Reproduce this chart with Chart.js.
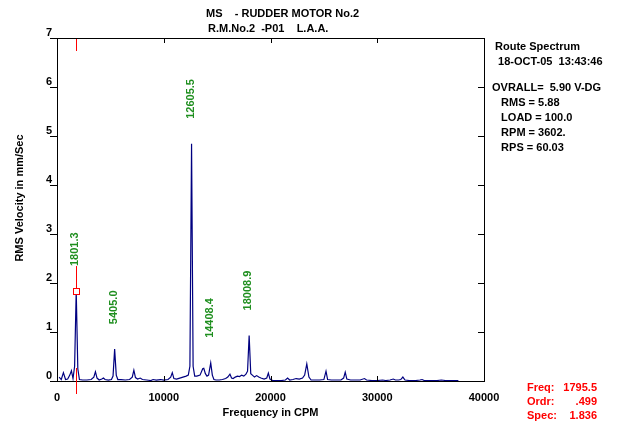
<!DOCTYPE html>
<html><head><meta charset="utf-8">
<script src="https://cdn.jsdelivr.net/npm/chart.js@4/dist/chart.umd.min.js"></script>
<style>html,body{margin:0;padding:0;background:#fff}#wrap{width:621px;height:423px;position:relative}</style>
</head><body><div id="wrap"><canvas id="c" width="621" height="423"></canvas></div>
<script>
// Spectrum (frequency in CPM, RMS velocity in mm/Sec)
const freqCPM = [200,400,600,800,1000,1200,1350,1500,1650,1800,1950,2100,2400,2800,3200,3450,3600,3750,3950,4200,4350,4500,4800,5100,5250,5400,5550,5700,6000,6400,6800,7050,7200,7350,7550,7800,8000,8400,8800,9000,9300,9700,10000,10400,10650,10800,10950,11200,11500,11800,12100,12300,12450,12605,12750,12900,13100,13400,13650,13750,13900,14050,14200,14400,14550,14700,14900,15200,15500,15800,16000,16200,16350,16500,16700,16900,17100,17300,17500,17700,17850,18000,18150,18300,18500,18700,18900,19100,19400,19650,19800,19950,20200,20500,21000,21400,21600,21800,22100,22400,22700,23000,23200,23400,23600,23800,24200,24600,25000,25200,25350,25700,26200,26600,26850,27000,27150,27500,28000,28400,28800,29000,29500,30000,30500,30800,31200,31500,31700,32000,32200,32400,32600,33000,33600,34000,34200,34400,35000,35600,36000,36400,37000,37600];
const rmsVel = [0.08,0.03,0.17,0.03,0.04,0.12,0.21,0.05,0.30,1.836,0.25,0.03,0.02,0.02,0.03,0.08,0.19,0.06,0.02,0.04,0.06,0.03,0.02,0.03,0.10,0.65,0.12,0.03,0.03,0.02,0.03,0.08,0.22,0.07,0.04,0.06,0.03,0.02,0.01,0.03,0.02,0.03,0.02,0.03,0.08,0.17,0.05,0.04,0.06,0.08,0.10,0.12,0.30,4.84,0.30,0.10,0.10,0.12,0.25,0.26,0.15,0.10,0.12,0.37,0.12,0.03,0.02,0.02,0.03,0.05,0.08,0.14,0.06,0.05,0.08,0.10,0.09,0.12,0.10,0.14,0.20,0.93,0.15,0.12,0.08,0.11,0.08,0.06,0.04,0.06,0.16,0.04,0.01,0.01,0.01,0.02,0.06,0.02,0.03,0.05,0.04,0.06,0.12,0.35,0.08,0.02,0.02,0.02,0.03,0.20,0.03,0.02,0.02,0.02,0.06,0.18,0.04,0.02,0.02,0.02,0.05,0.02,0.01,0.01,0.02,0.01,0.02,0.04,0.02,0.02,0.03,0.08,0.02,0.01,0.01,0.02,0.03,0.01,0.01,0.01,0.02,0.01,0.01,0.01];

// Labelled peaks
const peakFreqs = [1801.3, 5405.0, 12605.5, 14408.4, 18008.9];
const peakAmps = [1.836, 0.65, 4.84, 0.37, 0.93];
const peakLabels = ['1801.3', '5405.0', '12605.5', '14408.4', '18008.9'];

// Axes
const xMin = 0, xMax = 40000, xStep = 10000;
const yMin = 0, yMax = 7, yStep = 1;
const xTitle = 'Frequency in CPM';
const yTitle = 'RMS Velocity in mm/Sec';

// Texts
const titleLines = ['MS    - RUDDER MOTOR No.2', 'R.M.No.2  -P01    L.A.A.'];
const infoLines = ['Route Spectrum', ' 18-OCT-05  13:43:46', '', 'OVRALL=  5.90 V-DG', '  RMS = 5.88', '  LOAD = 100.0', '  RPM = 3602.', '  RPS = 60.03'];
const cursorFreq = 1795.5, cursorAmp = 1.836;
const cursorKeys = ['Freq:', 'Ordr:', 'Spec:'];
const cursorVals = ['1795.5', '.499', '1.836'];

const FONT = 'bold 11px "Liberation Sans", Arial, sans-serif';
const GREEN = '#1f8f1f', RED = '#ff0000', NAVY = '#000080';

const decor = {
  id: 'decor',
  beforeDatasetsDraw(chart) {
    const {ctx, scales: {x, y}, chartArea: a} = chart;
    const cx = Math.round(x.getPixelForValue(cursorFreq)) + 0.5;
    const cy = y.getPixelForValue(cursorAmp);
    ctx.save();
    ctx.strokeStyle = RED; ctx.lineWidth = 1;
    ctx.beginPath();
    ctx.moveTo(cx, a.top); ctx.lineTo(cx, a.top + 13);
    ctx.moveTo(cx, cy - 25); ctx.lineTo(cx, cy - 3);
    ctx.moveTo(cx, a.bottom - 13); ctx.lineTo(cx, a.bottom + 13);
    ctx.stroke();
    ctx.restore();
  },
  afterDatasetsDraw(chart) {
    const {ctx, scales: {x, y}, chartArea: a} = chart;
    ctx.save();
    // frame top/right with inward ticks
    ctx.strokeStyle = '#000'; ctx.lineWidth = 1;
    ctx.beginPath();
    ctx.moveTo(a.left, a.top + 0.5); ctx.lineTo(a.right + 0.5, a.top + 0.5);
    ctx.moveTo(a.right + 0.5, a.top); ctx.lineTo(a.right + 0.5, a.bottom);
    for (let v = xMin + xStep; v < xMax; v += xStep) {
      const px = Math.round(x.getPixelForValue(v)) + 0.5;
      ctx.moveTo(px, a.top); ctx.lineTo(px, a.top + 5);
      ctx.moveTo(px, a.bottom); ctx.lineTo(px, a.bottom - 5);
    }
    for (let v = yMin + yStep; v < yMax; v += yStep) {
      const py = Math.round(y.getPixelForValue(v)) + 0.5;
      ctx.moveTo(a.right, py); ctx.lineTo(a.right - 6, py);
    }
    ctx.stroke();

    // cursor marker
    const cx = Math.round(x.getPixelForValue(cursorFreq)) + 0.5;
    const cy = Math.round(y.getPixelForValue(cursorAmp)) + 0.5;
    ctx.fillStyle = '#fff'; ctx.strokeStyle = RED;
    ctx.fillRect(cx - 3, cy - 3, 6, 6);
    ctx.strokeRect(cx - 3, cy - 3, 6, 6);

    // peak labels
    ctx.font = FONT; ctx.fillStyle = GREEN;
    ctx.textAlign = 'left'; ctx.textBaseline = 'middle';
    peakFreqs.forEach((f, i) => {
      const px = x.getPixelForValue(f) - 1;
      const py = y.getPixelForValue(peakAmps[i]) - 25;
      ctx.save(); ctx.translate(px, py); ctx.rotate(-Math.PI / 2);
      ctx.fillText(peakLabels[i], 0, 0); ctx.restore();
    });

    // titles
    ctx.fillStyle = '#000'; ctx.textBaseline = 'middle'; ctx.textAlign = 'left';
    ctx.fillText(titleLines[0], 206, 14);
    ctx.fillText(titleLines[1], 208, 29);
    // axis titles
    ctx.textAlign = 'center';
    ctx.fillText(xTitle, (a.left + a.right) / 2, 413);
    ctx.save(); ctx.translate(20, 198); ctx.rotate(-Math.PI / 2);
    ctx.fillText(yTitle, 0, 0); ctx.restore();
    // info panel
    ctx.textAlign = 'left';
    const infoY = [47, 62, 0, 88, 103, 118, 133, 148];
    infoLines.forEach((t, i) => { if (t) ctx.fillText(t, i === 3 ? 492 : 495, infoY[i]); });
    // cursor readout
    ctx.fillStyle = RED;
    cursorKeys.forEach((k, i) => {
      ctx.textAlign = 'left'; ctx.fillText(k, 527, 388 + i * 14);
      ctx.textAlign = 'right'; ctx.fillText(cursorVals[i], 597, 388 + i * 14);
    });
    ctx.restore();
  }
};

new Chart(document.getElementById('c'), {
  type: 'scatter',
  data: {
    datasets: [{
      data: freqCPM.map((f, i) => ({x: f, y: rmsVel[i]})),
      showLine: true, borderColor: NAVY, borderWidth: 1.2, pointRadius: 0, tension: 0, fill: false
    }]
  },
  options: {
    responsive: false, animation: false, devicePixelRatio: 1,
    layout: {padding: {left: 0, top: 38, right: 137, bottom: 0}},
    plugins: {legend: {display: false}, tooltip: {enabled: false}},
    scales: {
      x: {
        type: 'linear', min: xMin, max: xMax,
        ticks: {stepSize: xStep, font: {family: '"Liberation Sans", Arial', size: 11, weight: 'bold'}, color: '#000', padding: 10, maxRotation: 0, callback: v => String(v)},
        grid: {drawOnChartArea: false, drawTicks: false},
        border: {color: '#000', width: 1},
        afterFit: s => { s.height = 42; }
      },
      y: {
        min: yMin, max: yMax,
        ticks: {stepSize: yStep, font: {family: '"Liberation Sans", Arial', size: 11, weight: 'bold'}, color: '#000', padding: -2, labelOffset: -5},
        grid: {drawOnChartArea: false, drawTicks: true, tickLength: 7, color: '#000'},
        border: {color: '#000', width: 1},
        afterFit: s => { s.width = 57; }
      }
    }
  },
  plugins: [decor]
});
</script>
</body></html>
